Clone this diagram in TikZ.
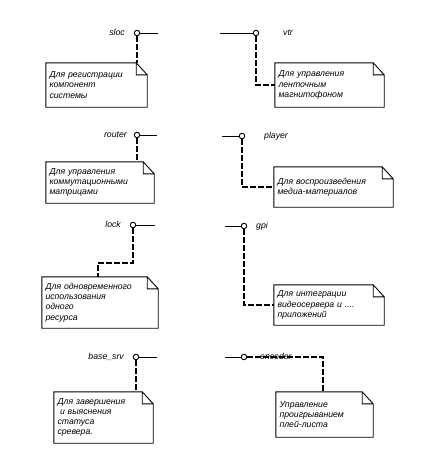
\documentclass[tikz,border=0pt]{standalone}
\usepackage{fontspec}
\setmainfont{Liberation Sans}
\newcommand\dognote[1]{%
  \draw[thinline] ([xshift=-11pt]#1.north east) -- (#1.north west) -- (#1.south west)
    -- (#1.south east) -- ([yshift=-12pt]#1.north east) -- cycle
    ([xshift=-11pt]#1.north east) |- ([yshift=-12pt]#1.north east);}
\tikzset{
  thinline/.style={draw=black, line width=0.9pt},
  conn/.style={draw=black, line width=1.9pt, dash pattern=on 5.5pt off 2.5pt},
  lolly/.style={circle, draw=black, fill=white, line width=0.9pt, minimum size=5.5pt, inner sep=0pt},
  lbl/.style={inner sep=0pt, font=\fontsize{8.7}{10}\selectfont\itshape},
  notebox/.style={draw=none, inner xsep=3.5pt, inner ysep=1pt, align=left,
    font=\fontsize{8.7}{10.2}\selectfont\itshape}
}
\begin{document}
\begin{tikzpicture}[x=1pt,y=-1pt]
\useasboundingbox[fill=white] (0,0) rectangle (429,458);

% ---------- sloc ----------
\node[lolly] (sloc) at (137,33) {};
\node[lbl, anchor=mid east] (sloclbl) at (125,33) {sloc};
\coordinate (sloce) at (158,33);
\node[notebox, minimum width=101pt, minimum height=44pt, text width=94pt] (n1) at (96.5,85)
  {Для регистрации\\компонент\\системы};
\dognote{n1}
\draw[thinline] (sloc) -- (sloce);
\draw[conn] (sloc.south) -- (sloc.south |- n1.north);

% ---------- vtr ----------
\node[lolly] (vtr) at (256,33) {};
\node[lbl, anchor=mid west] (vtrlbl) at (283,33) {vtr};
\coordinate (vtre) at (220,33);
\node[notebox, minimum width=109pt, minimum height=44pt, text width=102pt] (n2) at (329.5,85)
  {Для управления\\ленточным\\магнитофоном};
\dognote{n2}
\draw[thinline] (vtre) -- (vtr);
\draw[conn] (vtr.south) |- (n2.west);

% ---------- router ----------
\node[lolly] (router) at (137,135) {};
\node[lbl, anchor=mid east] (routerlbl) at (127,135) {router};
\coordinate (routere) at (157,135);
\node[notebox, minimum width=108pt, minimum height=41pt, text width=101pt] (n3) at (100,182.5)
  {Для управления\\коммутационными\\матрицами};
\dognote{n3}
\draw[thinline] (router) -- (routere);
\draw[conn] (router.south) -- (router.south |- n3.north);

% ---------- player ----------
\node[lolly] (player) at (242,136) {};
\node[lbl, anchor=mid west] (playerlbl) at (264,136) {player};
\coordinate (playere) at (222,136);
\node[notebox, minimum width=119pt, minimum height=40pt, text width=112pt] (n4) at (333.5,187)
  {Для воспроизведения\\медиа-материалов};
\dognote{n4}
\draw[thinline] (playere) -- (player);
\draw[conn] (player.south) |- (n4.west);

% ---------- lock ----------
\node[lolly] (lock) at (133,225) {};
\node[lbl, anchor=mid east] (locklbl) at (121,225) {lock};
\coordinate (locke) at (155,225);
\coordinate (lockk) at (98,263);
\node[notebox, minimum width=116pt, minimum height=51pt, text width=109pt] (n5) at (100,302.5)
  {Для одновременного\\использования\\одного\\ресурса};
\dognote{n5}
\draw[thinline] (lock) -- (locke);
\draw[conn] (lock.south) |- (lockk) -- (lockk |- n5.north);

% ---------- gpi ----------
\node[lolly] (gpi) at (244,226) {};
\node[lbl, anchor=mid west] (gpilbl) at (256,226) {gpi};
\coordinate (gpie) at (225,226);
\node[notebox, minimum width=110pt, minimum height=40pt, text width=103pt] (n6) at (329,305)
  {Для интеграции\\видеосервера и ....\\приложений};
\dognote{n6}
\draw[thinline] (gpie) -- (gpi);
\draw[conn] (gpi.south) |- (n6.west);

% ---------- base_srv ----------
\node[lolly] (basesrv) at (136,357) {};
\node[lbl, anchor=mid east] (basesrvlbl) at (124,357) {base\_srv};
\coordinate (basesrve) at (157,357);
\node[notebox, minimum width=99pt, minimum height=51pt, text width=92pt] (n7) at (103.5,417.5)
  {Для завершения\\\hspace*{2.5pt}и выяснения\\статуса\\сревера.};
\dognote{n7}
\draw[thinline] (basesrv) -- (basesrve);
\draw[conn] (basesrv.south) -- (basesrv.south |- n7.north);

% ---------- encoder ----------
\node[lolly] (encoder) at (244,357) {};
\node[lbl, anchor=mid west] (encoderlbl) at (260,357) {encoder};
\coordinate (encodere) at (225,357);
\coordinate (encoderk) at (323,357);
\node[notebox, minimum width=97pt, minimum height=45pt, text width=90pt] (n8) at (324.5,414.5)
  {Управление\\проигрыванием\\плей-листа};
\dognote{n8}
\draw[thinline] (encodere) -- (encoder);
\draw[conn] (encoder.east) -- (encoderk) -- (encoderk |- n8.north);
\end{tikzpicture}
\end{document}
